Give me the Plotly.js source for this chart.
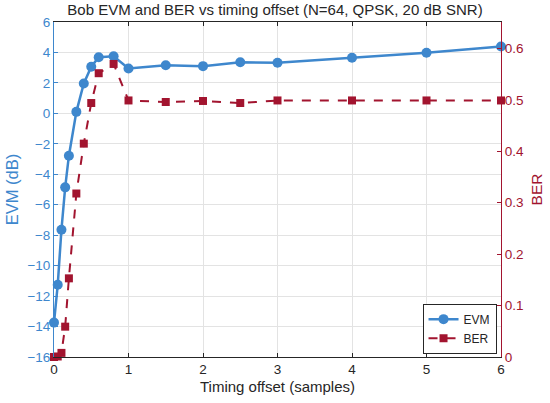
<!DOCTYPE html>
<html>
<head>
<meta charset="utf-8">
<script src="https://cdn.plot.ly/plotly-3.0.1.min.js"></script>
<style>html,body{margin:0;padding:0;background:#fff;}#chart{width:550px;height:403px;}</style>
</head>
<body>
<div id="chart"></div>
<script>
const timingOffset = [0, 0.05, 0.1, 0.15, 0.2, 0.3, 0.4, 0.5, 0.6, 0.8, 1.0, 1.5, 2, 2.5, 3, 4, 5, 6];
const evmDb = [-13.74, -11.26, -7.64, -4.86, -2.78, 0.10, 1.96, 3.06, 3.68, 3.75, 2.95, 3.16, 3.10, 3.36, 3.32, 3.65, 3.98, 4.39];
const ber = [0.0, 0.001, 0.008, 0.059, 0.153, 0.318, 0.415, 0.494, 0.552, 0.570, 0.499, 0.496, 0.498, 0.494, 0.499, 0.499, 0.499, 0.499];
const xTicks = [0, 1, 2, 3, 4, 5, 6];
const evmTicks = [6, 4, 2, 0, -2, -4, -6, -8, -10, -12, -14, -16];
const berTicks = [0, 0.1, 0.2, 0.3, 0.4, 0.5, 0.6];

const blue = '#3E87CD';
const red = '#A2142F';
const font = 'Liberation Sans, Arial, sans-serif';

const traces = [
  {x: timingOffset, y: evmDb, name: 'EVM', type: 'scatter', mode: 'lines+markers', cliponaxis: false,
   line: {color: blue, width: 2.5}, marker: {color: blue, size: 10, symbol: 'circle'}, yaxis: 'y'},
  {x: timingOffset, y: ber, name: 'BER', type: 'scatter', mode: 'lines+markers', cliponaxis: false,
   line: {color: red, width: 2, dash: 'dash'}, marker: {color: red, size: 8, symbol: 'square'}, yaxis: 'y2'}
];

const layout = {
  width: 550, height: 403,
  margin: {l: 54, r: 49, t: 22, b: 46},
  paper_bgcolor: '#fff', plot_bgcolor: '#fff',
  font: {family: font, size: 13, color: '#262626'},
  title: {text: 'Bob EVM and BER vs timing offset (N=64, QPSK, 20 dB SNR)', font: {family: font, size: 15, color: '#262626'}, x: 0.5, xanchor: 'center', y: 0.99, yanchor: 'top'},
  xaxis: {range: [0, 6], tickvals: xTicks, ticks: 'inside', ticklen: 4, tickcolor: '#262626',
    showline: true, linecolor: '#262626', linewidth: 1, mirror: 'ticks',
    showgrid: true, gridcolor: '#e3e3e3', zeroline: false,
    tickfont: {family: font, size: 13.5, color: '#262626'},
    title: {text: 'Timing offset (samples)', font: {family: font, size: 15, color: '#262626'}, standoff: 5}},
  yaxis: {range: [-16, 6], tickvals: evmTicks, ticks: 'inside', ticklen: 4, tickcolor: blue,
    showline: true, linecolor: blue, linewidth: 1,
    showgrid: true, gridcolor: '#e3e3e3', zeroline: false,
    tickfont: {family: font, size: 13.5, color: blue},
    title: {text: 'EVM (dB)', font: {family: font, size: 16.5, color: blue}, standoff: 4}},
  yaxis2: {range: [0, 0.6516], tickvals: berTicks, ticks: 'inside', ticklen: 4, tickcolor: red,
    overlaying: 'y', side: 'right', showline: true, linecolor: red, linewidth: 1,
    showgrid: false, zeroline: false,
    tickfont: {family: font, size: 13.5, color: red},
    title: {text: 'BER', font: {family: font, size: 15.5, color: red}, standoff: 8}},
  showlegend: true,
  legend: {x: 0.99, y: 0.01, xanchor: 'right', yanchor: 'bottom', bgcolor: '#fff',
    bordercolor: '#262626', borderwidth: 1, font: {family: font, size: 12, color: '#262626'},
    tracegroupgap: 0, itemwidth: 30}
};

Plotly.newPlot('chart', traces, layout, {displayModeBar: false, staticPlot: true});
</script>
</body>
</html>
